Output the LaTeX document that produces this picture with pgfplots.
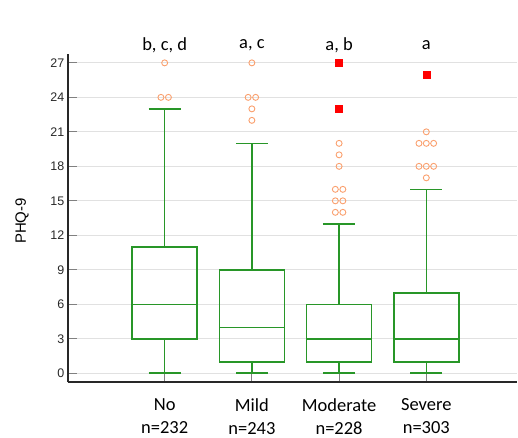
\documentclass[border=0pt]{standalone}
\usepackage{fontspec}
\setmainfont{Carlito}
\newfontfamily\arialf{Liberation Sans}
\usepackage{pgfplots}
\pgfplotsset{compat=1.18}
\usepgfplotslibrary{statistics}
\definecolor{boxgreen}{RGB}{40,150,40}
\definecolor{outorange}{RGB}{250,160,110}
\definecolor{gridgray}{RGB}{225,225,225}
\definecolor{axisdark}{RGB}{40,40,40}

\begin{document}
\begin{tikzpicture}
\begin{axis}[
    scale only axis,
    width=450bp, height=329bp,
    xmin=-0.11, xmax=5.04,
    ymin=-0.78, ymax=27.78,
    boxplot/draw direction=y,
    axis lines*=left,
    axis line style={axisdark, line width=2bp},
    ytick={0,3,...,27},
    xtick={1,2,3,4},
    xticklabels={No\\n=232, Mild\\n=243, Moderate\\n=228, Severe\\n=303},
    tick align=inside,
    major tick length=9bp,
    tick style={gray, line width=1bp},
    ymajorgrids,
    grid style={gridgray, line width=0.8bp},
    /pgf/number format/assume math mode=true,
    yticklabel style={font=\arialf\fontsize{12.5bp}{14bp}\selectfont, text=axisdark},
    xticklabel style={font=\fontsize{18.5bp}{23bp}\selectfont, align=center, yshift=-13bp},
    ylabel={PHQ-9},
    ylabel style={font=\arialf\fontsize{15bp}{17bp}\selectfont, at={(rel axis cs:-0.102,0.491)}, anchor=center},
    clip=false,
]

% boxes: lower whisker, Q1, median, Q3, upper whisker
\addplot[draw=boxgreen, line width=1.6bp, boxplot prepared={draw position=1,
    lower whisker=0, lower quartile=3, median=6, upper quartile=11, upper whisker=23,
    box extend=0.745, whisker extend=0.37}] coordinates {};
\addplot[draw=boxgreen, line width=1.6bp, boxplot prepared={draw position=2,
    lower whisker=0, lower quartile=1, median=4, upper quartile=9, upper whisker=20,
    box extend=0.745, whisker extend=0.37}] coordinates {};
\addplot[draw=boxgreen, line width=1.6bp, boxplot prepared={draw position=3,
    lower whisker=0, lower quartile=1, median=3, upper quartile=6, upper whisker=13,
    box extend=0.745, whisker extend=0.37}] coordinates {};
\addplot[draw=boxgreen, line width=1.6bp, boxplot prepared={draw position=4,
    lower whisker=0, lower quartile=1, median=3, upper quartile=7, upper whisker=16,
    box extend=0.745, whisker extend=0.37}] coordinates {};

% outside values
\addplot[only marks, mark=o, mark size=3bp, draw=outorange, line width=0.9bp] coordinates {
    (1,27) (0.957,24) (1.043,24)
    (2,27) (1.957,24) (2.043,24) (2,23) (2,22)
    (3,20) (3,19) (3,18) (2.957,16) (3.043,16) (2.957,15) (3.043,15) (2.957,14) (3.043,14)
    (4,21) (3.916,20) (4,20) (4.084,20) (3.916,18) (4,18) (4.084,18) (4,17)
};
% far out values
\addplot[only marks, mark=square*, mark size=3.5bp, color=red] coordinates {
    (3,27) (3,23) (4,26)
};

\node[font=\fontsize{18.5bp}{22bp}\selectfont] at (axis cs:1,28.56) {b, c, d};
\node[font=\fontsize{18.5bp}{22bp}\selectfont] at (axis cs:2,28.56) {a, c};
\node[font=\fontsize{18.5bp}{22bp}\selectfont] at (axis cs:3,28.56) {a, b};
\node[font=\fontsize{18.5bp}{22bp}\selectfont] at (axis cs:4,28.56) {a};
\end{axis}
\path ([shift={(-68bp,-52bp)}]current axis.south west)
      ([shift={(0bp,54bp)}]current axis.north east);
\end{tikzpicture}
\end{document}
